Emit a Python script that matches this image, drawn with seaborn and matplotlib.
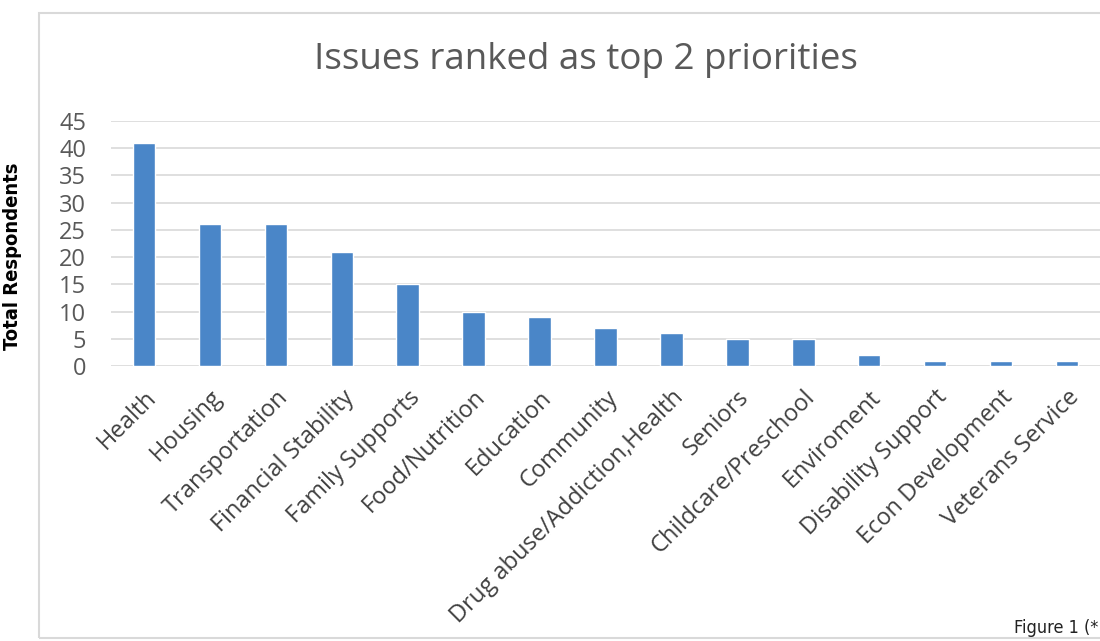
import matplotlib
matplotlib.use("Agg")
import matplotlib.pyplot as plt
from matplotlib.patches import Rectangle
import seaborn as sns
import pandas as pd

categories = [
    "Health", "Housing", "Transportation", "Financial Stability",
    "Family Supports", "Food/Nutrition", "Education", "Community",
    "Drug abuse/Addiction,Health", "Seniors", "Childcare/Preschool",
    "Enviroment", "Disability Support", "Econ Development", "Veterans Service",
]
respondents = [41, 26, 26, 21, 15, 10, 9, 7, 6, 5, 5, 2, 1, 1, 1]
y_ticks = [0, 5, 10, 15, 20, 25, 30, 35, 40, 45]

df = pd.DataFrame({"issue": categories, "count": respondents})

sns.set_theme(style="white")
plt.rcParams["font.family"] = ["Open Sans", "DejaVu Sans"]

W, H = 1100, 641
fig = plt.figure(figsize=(W / 100, H / 100), dpi=100)
fig.patch.set_facecolor("white")

# chart frame
fig.patches.append(Rectangle((39 / W, 1 - 638 / H), 1.2, (638 - 13) / H,
                             transform=fig.transFigure, fill=False,
                             edgecolor="#d9d9d9", linewidth=1.5))

ax = fig.add_axes([111 / W, 1 - 366 / H, (1100 - 111) / W, 245 / H])
sns.barplot(data=df, x="issue", y="count", color="#4a86c8", saturation=1,
            width=0.34, ax=ax)
ax.set_xlim(-0.5, len(categories) - 0.5)
ax.set_ylim(0, 45)
ax.set_yticks(y_ticks)
ax.yaxis.grid(True, color="#d9d9d9", linewidth=1.2)
ax.set_axisbelow(True)
for s in ax.spines.values():
    s.set_visible(False)
ax.tick_params(axis="both", length=0, colors="#595959")
ax.tick_params(axis="y", labelsize=17, pad=18)
ax.tick_params(axis="x", labelsize=17, pad=14)
ax.set_xticks(range(len(categories)))
ax.set_xticklabels(categories, rotation=45, ha="right", rotation_mode="anchor",
                   color="#404040")
ax.set_xlabel("")
ax.set_ylabel("")

fig.text(586 / W, 1 - 60 / H, "Issues ranked as top 2 priorities",
         ha="center", va="center", fontsize=26.5, color="#595959")
fig.text(13 / W, 1 - 256 / H, "Total Respondents", rotation=90,
         ha="center", va="center", fontsize=14.5, fontweight="bold",
         family=["DejaVu Sans"], fontstretch="condensed", color="black")
fig.text(1098 / W, 1 - 628 / H, "Figure 1 (*", ha="right", va="center",
         fontsize=13, family=["DejaVu Sans"], fontstretch="condensed",
         color="#222222")

fig.savefig("out.png", dpi=100)
